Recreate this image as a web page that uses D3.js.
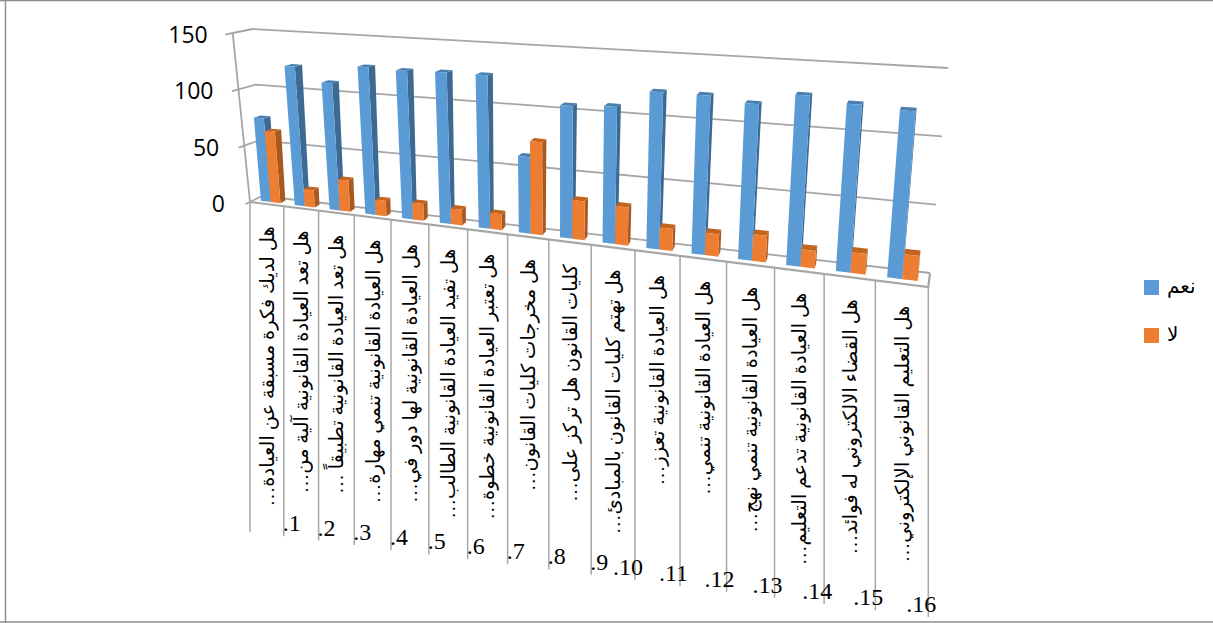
<!DOCTYPE html>
<html lang="ar">
<head>
<meta charset="utf-8">
<script src="https://cdn.jsdelivr.net/npm/d3@7"></script>
<style>
  html, body { margin: 0; padding: 0; background: #fff; }
  svg { display: block; }
</style>
</head>
<body>
<svg id="chart" width="1213" height="623"></svg>
<script>
// Survey answers per question
const questions = [
  "هل لديك فكرة مسبقة عن العيادة…",
  "هل تعد العيادة القانونية آلية من…",
  "هل تعد العيادة القانونية تطبيقاً …",
  "هل العيادة القانونية تنمي مهارة…",
  "هل العيادة القانونية لها دور في…",
  "هل تفيد العيادة القانونية الطالب…",
  "هل تعتبر العيادة القانونية خطوة…",
  "هل مخرجات كليات القانون…",
  "كليات القانون هل تركز على…",
  "هل تهتم كليات القانون بالمبادئ…",
  "هل العيادة القانونية تعزز…",
  "هل العيادة القانونية تنمي…",
  "هل العيادة القانونية تنمي نهج…",
  "هل العيادة القانونية تدعم التعليم…",
  "هل القضاء الالكتروني له فوائد…",
  "هل التعليم القانوني الإلكتروني…"
];
const yesValues = [74, 122, 110, 126, 125, 126, 126, 62, 106, 108, 122, 122, 118, 127, 123, 121];
const noValues  = [63, 15, 27, 13, 14, 13, 13, 75, 31, 30, 17, 17, 20, 13, 15, 18];
const seriesNames = ["نعم", "لا"];
const valueTicks = [0, 50, 100, 150];
const questionNumbers = d3.range(1, 17);

const faceColors = [
  { front: "#5b9bd5", side: "#3c6a93", top: "#4a80b0" },
  { front: "#ed7d31", side: "#a9591f", top: "#c4651f" }
];
const gridColor = "#a6a6a6";
const serif = "'Liberation Serif', 'DejaVu Serif', 'DejaVu Sans', serif";

// Corners of the plot box on screen: [left/right][front/back][floor/ceiling]
const box = {
  lf0: [250, 202],   lf1: [232.7, 33],
  lb0: [262, 196],   lb1: [252.7, 29],
  rf0: [928.3, 287], rf1: [946, 75],
  rb0: [930, 273],   rb1: [948, 68]
};
const lerp = (a, b, t) => a + (b - a) * t;
const mix = (p, q, t) => [lerp(p[0], q[0], t), lerp(p[1], q[1], t)];

// Columns grow towards the far end of the axis as the box recedes from the viewer
const foreshorten = 1.27;
const warp = u => u / (u + foreshorten * (1 - u));

// u along categories, v up the value axis, w into the depth of the box; all 0..1
function project(u, v, w) {
  const t = warp(u);
  const left = mix(mix(box.lf0, box.lf1, v), mix(box.lb0, box.lb1, v), w);
  const right = mix(mix(box.rf0, box.rf1, v), mix(box.rb0, box.rb1, v), w);
  return mix(left, right, t);
}

const uScale = d3.scaleBand().domain(d3.range(questions.length)).range([0, 1])
  .paddingInner(0.42).paddingOuter(0.21);
const seriesScale = d3.scaleBand().domain([0, 1]).range([0, uScale.bandwidth()]);
const vScale = d3.scaleLinear().domain([0, 150]).range([0, 1]);
const barDepth = [0.33, 0.75];

const svg = d3.select("#chart");
const line = d3.line();

// Frame around the chart area
svg.append("path").attr("d", "M0,0.5H1213 M5.5,0V623 M0,622H1213")
  .attr("stroke", "#8c8c8c").attr("stroke-width", 1.4).attr("fill", "none");

// Walls and gridlines
const walls = svg.append("g").attr("fill", "none").attr("stroke", gridColor).attr("stroke-width", 1.8);
valueTicks.forEach(tick => {
  const v = vScale(tick);
  walls.append("path").attr("d", line([
    project(0, v, -0.38), project(0, v, 0), project(0, v, 1), project(1, v, 1)
  ]));
});
walls.append("path").attr("d", line([project(0, 0, 0), project(0, 1, 0)]));

// Floor slab outline
walls.append("path").attr("d", line([project(0, 0, 0), project(1, 0, 0), project(1, 0, 1)]))
  .attr("stroke-width", 2.2);

// Separator hanging below the front edge for every category boundary
const columnEdges = d3.range(questions.length + 1).map(i => i / questions.length);
const separatorDrop = 330;
svg.append("g").selectAll("path").data(columnEdges).join("path")
  .attr("d", u => {
    const [x, y] = project(u, 0, 0);
    return line([[x, y], [x, y + separatorDrop]]);
  })
  .attr("stroke", gridColor).attr("stroke-width", 1.5).attr("fill", "none");

// Bars: left to right, one series over the other
const polygon = pts => line(pts) + "Z";
function drawBar(group, i, s, value) {
  const colors = faceColors[s];
  const u0 = uScale(i) + seriesScale(s);
  const u1 = u0 + seriesScale.bandwidth();
  const v = vScale(value);
  const [w0, w1] = barDepth;
  const g = group.append("g");
  g.append("path").attr("fill", colors.side).attr("d", polygon([
    project(u1, 0, w0), project(u1, 0, w1), project(u1, v, w1), project(u1, v, w0)
  ]));
  g.append("path").attr("fill", colors.top).attr("d", polygon([
    project(u0, v, w0), project(u1, v, w0), project(u1, v, w1), project(u0, v, w1)
  ]));
  g.append("path").attr("fill", colors.front).attr("d", polygon([
    project(u0, 0, w0), project(u1, 0, w0), project(u1, v, w0), project(u0, v, w0)
  ]));
}
const bars = svg.append("g");
questions.forEach((q, i) => {
  drawBar(bars, i, 0, yesValues[i]);
  drawBar(bars, i, 1, noValues[i]);
});

// Value axis labels
svg.append("g").selectAll("text").data(valueTicks).join("text")
  .attr("x", d => project(0, vScale(d), 0)[0] - 25)
  .attr("y", d => project(0, vScale(d), 0)[1] + 1)
  .attr("text-anchor", "end")
  .attr("dominant-baseline", "central")
  .attr("font-family", "'Open Sans', sans-serif")
  .attr("font-size", 23)
  .attr("fill", "#000")
  .text(d => d);

// Question labels, turned to read down each column
const labelOffset = 22;
svg.append("g").selectAll("text").data(questions).join("text")
  .attr("transform", (d, i) => {
    const u = uScale(i) + uScale.bandwidth() / 2;
    const [x, y] = project(u, 0, 0);
    return `translate(${x + 7},${y + labelOffset}) rotate(-90)`;
  })
  .attr("direction", "rtl")
  .attr("text-anchor", "start")
  .attr("font-family", serif)
  .attr("font-size", 19.5)
  .attr("fill", "#000")
  .text(d => d);

// Question numbers at the foot of the separators
svg.append("g").selectAll("text").data(questionNumbers).join("text")
  .attr("x", n => project(n / questions.length, 0, 0)[0] + (n < 10 ? -1 : 8))
  .attr("y", n => project(n / questions.length, 0, 0)[1] + separatorDrop - 5)
  .attr("text-anchor", n => n < 10 ? "start" : "end")
  .attr("font-family", serif)
  .attr("font-size", 24)
  .attr("fill", "#000")
  .text(n => "." + n);

// Legend
const legend = svg.append("g").selectAll("g").data(seriesNames).join("g")
  .attr("transform", (d, i) => `translate(1144,${280 + i * 48})`);
legend.append("rect").attr("width", 15).attr("height", 15)
  .attr("fill", (d, i) => faceColors[i].front);
legend.append("text")
  .attr("x", 23).attr("y", 13)
  .attr("direction", "rtl").attr("text-anchor", "end")
  .attr("font-family", serif).attr("font-size", 20).attr("fill", "#000")
  .text(d => d);
</script>
</body>
</html>
